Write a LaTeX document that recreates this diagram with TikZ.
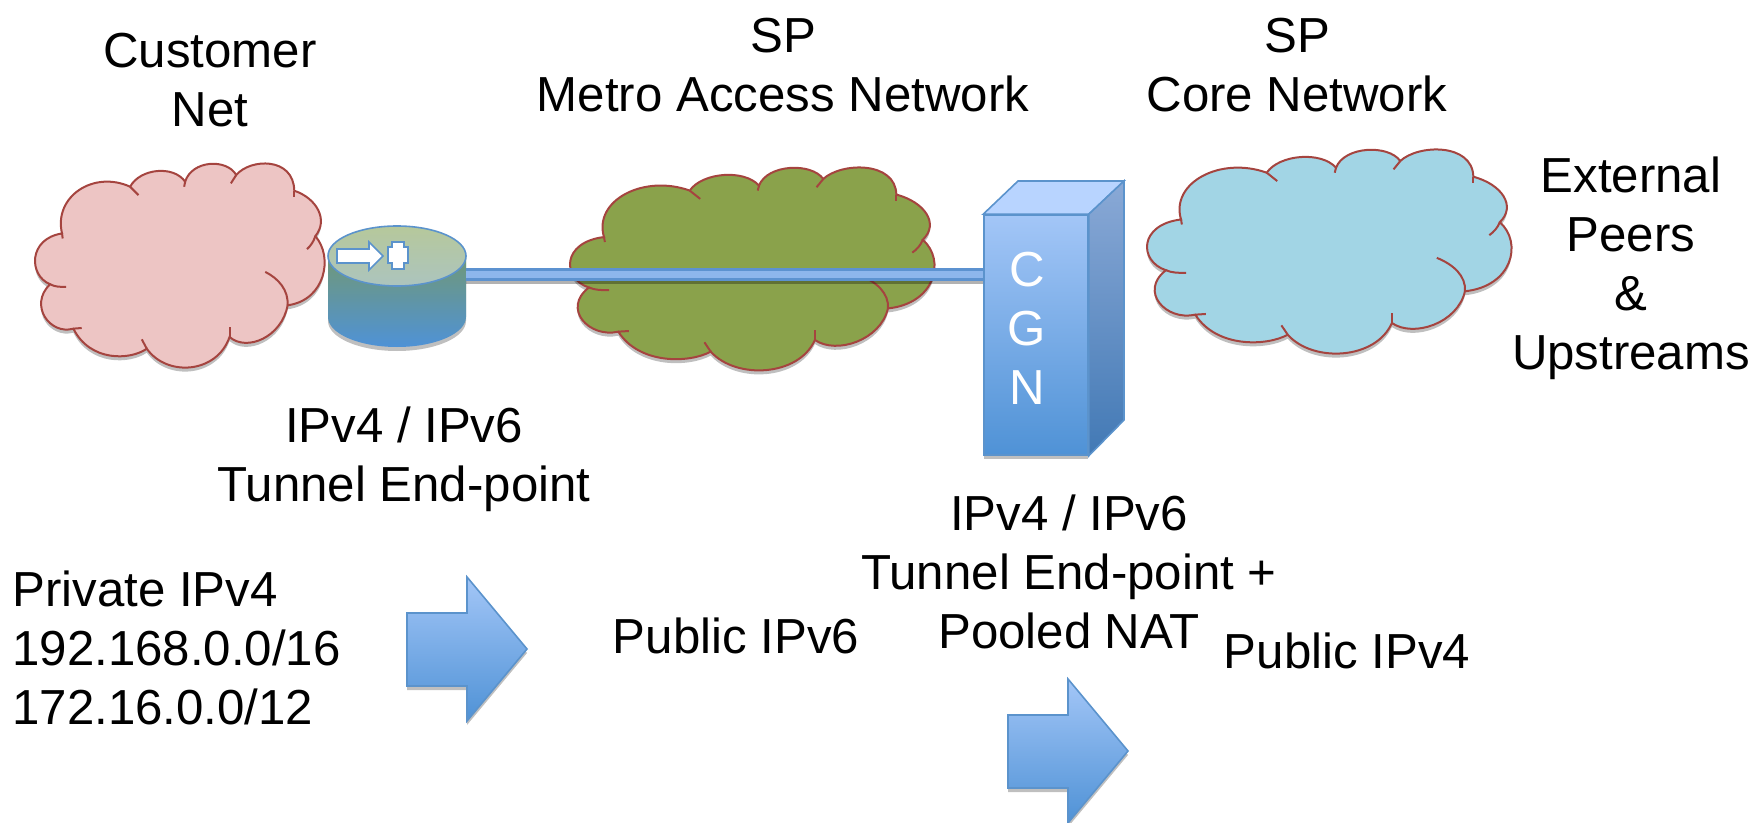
\documentclass[tikz,border=0pt]{standalone}
\usepackage{fontspec}
\setmainfont{Liberation Sans}
\usetikzlibrary{shadows, positioning}
\definecolor{edgeblue}{HTML}{5B93CC}
\definecolor{lightblue}{HTML}{A3C6F7}
\definecolor{deepblue}{HTML}{4F92D6}
\definecolor{cloudedge}{HTML}{A5443F}
\definecolor{pinkfill}{HTML}{EDC5C4}
\definecolor{greenfill}{HTML}{8AA24B}
\definecolor{bluefill}{HTML}{A2D5E5}
\definecolor{sidetop}{HTML}{709878}
\definecolor{facetop}{HTML}{B6C89B}
\definecolor{facebottom}{HTML}{ACC4BE}
\definecolor{boxtop}{HTML}{B8D4FF}
\definecolor{boxsidetop}{HTML}{8AA9D6}
\definecolor{boxsidebottom}{HTML}{4279B5}
\definecolor{linkedge}{HTML}{5C92D0}
\definecolor{linkmid}{HTML}{8DB6EC}
\newcommand{\cloud}[5]{
  \begin{scope}[shift={(#1,#2)},xscale=#3,yscale=#4,shift={(-105,-75)}]
    \filldraw[cloudline,fill=#5,softshadow]
      (186,280) .. controls (160,170) and (280,90) .. (390,140)
      .. controls (420,85) and (520,75) .. (555,125)
      .. controls (575,60) and (680,55) .. (708,105)
      .. controls (750,55) and (880,50) .. (882,152)
      .. controls (950,175) and (985,240) .. (945,288)
      .. controls (1000,350) and (975,480) .. (862,495)
      .. controls (845,590) and (740,635) .. (688,590)
      .. controls (650,700) and (500,710) .. (440,625)
      .. controls (390,660) and (270,665) .. (220,565)
      .. controls (150,585) and (85,495) .. (150,432)
      .. controls (85,405) and (85,295) .. (186,280) -- cycle;
    \draw[cloudline] (390,140) -- (415,165);
    \draw[cloudline] (555,125) -- (552,140);
    \draw[cloudline] (708,105) -- (692,130);
    \draw[cloudline] (882,152) -- (882,170);
    \draw[cloudline] (945,288) .. controls (940,305) and (930,318) .. (920,327);
    \draw[cloudline] (862,495) .. controls (865,450) and (835,415) .. (795,395);
    \draw[cloudline] (688,590) -- (688,560);
    \draw[cloudline] (440,625) -- (425,597);
    \draw[cloudline] (220,565) -- (245,563);
    \draw[cloudline] (150,432) .. controls (165,440) and (180,440) .. (198,440);
    \draw[cloudline] (186,280) -- (188,295);
  \end{scope}
}
\newcommand{\blockarrow}[2]{
  \draw[boxline,softshadow,top color=lightblue,bottom color=deepblue]
    (#1,#2+36) -- (#1+60,#2+36) -- (#1+60,#2) -- (#1+120,#2+72)
    -- (#1+60,#2+144) -- (#1+60,#2+109) -- (#1,#2+109) -- cycle;
}
\begin{document}
\begin{tikzpicture}[x=0.5pt,y=-0.5pt,
    lbl/.style = {align=center,inner sep=0pt,font=\fontsize{24.6}{29.5}\selectfont},
    cloudline/.style = {draw=cloudedge,line width=1pt},
    boxline/.style = {draw=edgeblue,line width=0.8pt},
    softshadow/.style = {drop shadow={shadow xshift=0pt,shadow yshift=-2pt,opacity=.25,fill=black}},
    hidden/.style = {inner sep=0pt,minimum width=69pt,minimum height=60pt}]
  \useasboundingbox (0,0) rectangle (1764,823);

  % clouds
  \cloud{35}{165}{.3337}{.334}{pinkfill}
  \cloud{570}{169}{.42}{.332}{greenfill}
  \cloud{1147}{151}{.42}{.334}{bluefill}

  \node[lbl] (customer) at (210,80)  {Customer\\Net};
  \node[lbl] (metro)    at (783,65)  {SP\\Metro Access Network};
  \node[lbl] (core)     at (1297,65) {SP\\Core Network};
  \node[lbl] (peers)    at (1631,268) {External\\Peers\\\&\\Upstreams};
  \node[lbl] (tunnelA)  at (404,459) {IPv4 / IPv6\\Tunnel End-point};
  \node[lbl] (tunnelB)  at (1069,572) {IPv4 / IPv6\\Tunnel End-point +\\Pooled NAT};
  \node[lbl,align=left,anchor=west] (private) at (12,648) {Private IPv4\\192.168.0.0/16\\172.16.0.0/12};
  \node[lbl] (publicsix)  at (736,636) {Public IPv6};
  \node[lbl] (publicfour) at (1347,651) {Public IPv4};

  % router
  \node[hidden] (router) at (397,275) {};
  \draw[draw=none,softshadow,top color=sidetop,bottom color=deepblue]
    (328,256) -- (328,317) arc[start angle=180,end angle=0,x radius=69,y radius=30]
    -- (466,256) -- cycle;
  \draw[boxline,top color=facetop,bottom color=facebottom]
    (397,256) ellipse [x radius=69,y radius=30];
  \draw[boxline,fill=white] (337,249) -- (369,249) -- (369,242) -- (383,256)
    -- (369,270) -- (369,263) -- (337,263) -- cycle;
  \draw[boxline,fill=white] (392,242) -- (404,242) -- (404,247) -- (408,247) -- (408,263)
    -- (404,263) -- (404,269) -- (392,269) -- (392,263) -- (388,263) -- (388,247)
    -- (392,247) -- cycle;

  % CGN box
  \node[boxline,softshadow,top color=lightblue,bottom color=deepblue,inner sep=0pt,
        minimum width=52pt,minimum height=120pt] (cgn) at (1036,335) {};
  \draw[boxline,fill=boxtop] (cgn.north west) -- (1018,181) -- (1124,181) -- (cgn.north east) -- cycle;
  \draw[boxline,top color=boxsidetop,bottom color=boxsidebottom]
    (cgn.north east) -- (1124,181) -- (1124,420) -- (cgn.south east) -- cycle;
  \node[lbl,text=white] (cgnname) at (1027,328) {C\\G\\N};

  % link
  \draw[line width=6.5pt,color=black,opacity=.3,transform canvas={yshift=-1.5pt}] (router.east) -- (router.east -| cgn.west);
  \draw[line width=6.5pt,color=linkedge] (router.east) -- (router.east -| cgn.west);
  \draw[line width=3.5pt,color=linkmid] (router.east) -- (router.east -| cgn.west);

  % arrows
  \blockarrow{407}{577}
  \blockarrow{1008}{679}
\end{tikzpicture}
\end{document}
